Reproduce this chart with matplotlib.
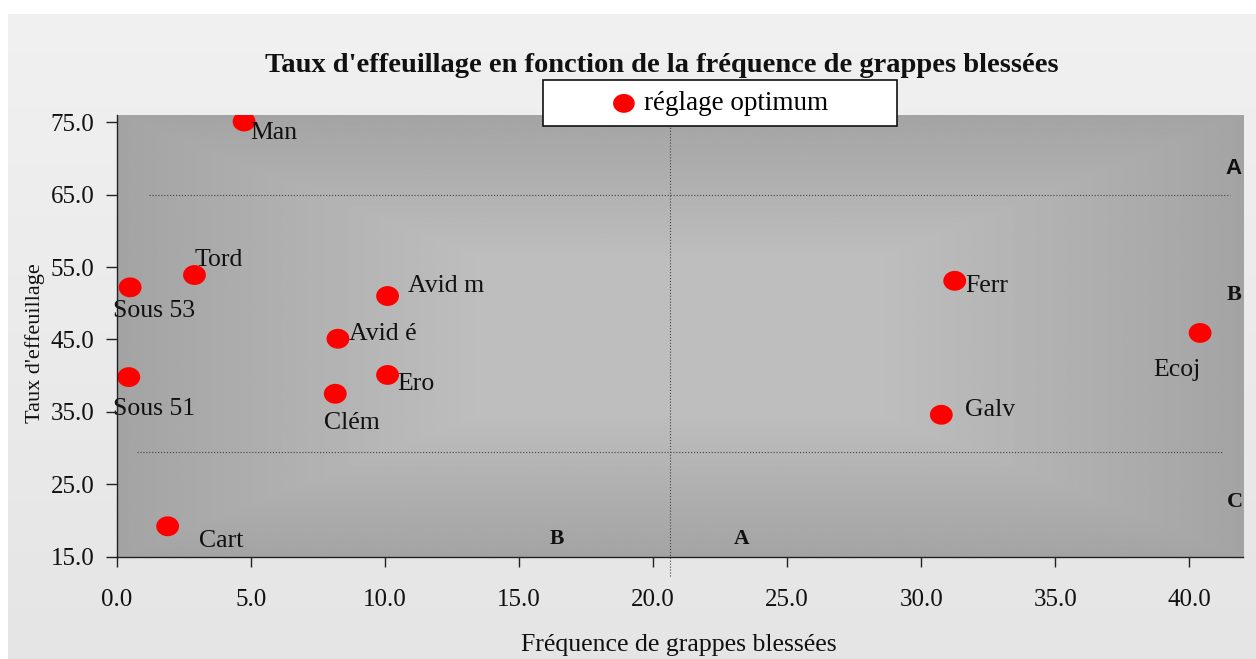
import matplotlib
matplotlib.use("Agg")
import matplotlib.pyplot as plt
import numpy as np
from matplotlib.path import Path
from matplotlib.transforms import Affine2D
from matplotlib.patches import Rectangle

# données
varietes = ["Man", "Tord", "Sous 53", "Avid m", "Avid é", "Sous 51",
            "Ero", "Clém", "Cart", "Ferr", "Ecoj", "Galv"]
freq_blessees = [4.75, 2.9, 0.5, 10.1, 8.25, 0.45, 10.1, 8.15, 1.9, 31.25, 40.4, 30.75]
taux_effeuillage = [75.1, 53.9, 52.2, 51.0, 45.1, 39.8, 40.1, 37.5, 19.2, 53.1, 45.9, 34.6]

seuil_haut = 65.0
seuil_bas = 29.4
seuil_freq = 20.65

# décalage des étiquettes (pixels)
offsets = [(6, -11), (0, 15), (-17, -24), (20, 10), (11, 5), (-16, -32),
           (10, -9), (-11, -29), (31, -15), (11, -5), (-47, -37), (24, 5)]

W, H = 1256, 659
fig = plt.figure(figsize=(W / 100, H / 100), dpi=100)
fig.patch.set_facecolor("white")

# fond de la zone graphique
bg = fig.add_axes([8 / W, 0, 1 - 8 / W, 1 - 14 / H], zorder=-10)
grad = np.linspace(0.94, 0.895, 200).reshape(-1, 1)
bg.imshow(grad, cmap="gray", vmin=0, vmax=1, aspect="auto", extent=(0, 1, 0, 1), origin="upper")
bg.set_axis_off()

ax = fig.add_axes([116.7 / W, 1 - 556.7 / H, (1243 - 116.7) / W, (556.7 - 115) / H])
ax.set_xlim(0, 42)
ax.set_ylim(15, 76)

# dégradé rectangulaire du fond
u = np.linspace(-1, 1, 400)
v = np.linspace(-1, 1, 300)
U, V = np.meshgrid(u, v)
d = np.maximum(np.abs(U), np.abs(V))
shade = 0.642 + (0.745 - 0.642) * np.clip((1 - d) / 0.65, 0, 1)
ax.imshow(shade, cmap="gray", vmin=0, vmax=1, aspect="auto",
          extent=(0, 42, 15, 76), zorder=0, interpolation="bilinear")

ax.plot([1.2, 41.5], [seuil_haut, seuil_haut], ls=":", color="#444444", lw=0.8, zorder=1)
ax.plot([0.75, 41.2], [seuil_bas, seuil_bas], ls=":", color="#444444", lw=0.8, zorder=1)
ax.plot([seuil_freq, seuil_freq], [12.4, 76], ls=":", color="#444444", lw=0.8,
        zorder=1, clip_on=False)

circ = Path.unit_circle()
ellipse = circ.transformed(Affine2D().scale(1.15, 1.0))
sc = ax.scatter(freq_blessees, taux_effeuillage, s=270, marker=ellipse,
                color="#ff0000", edgecolors="none", zorder=3)

serif = "Liberation Serif"
for name, x, y, (dx, dy) in zip(varietes, freq_blessees, taux_effeuillage, offsets):
    ax.annotate(name, (x, y), xytext=(dx, dy), textcoords="offset pixels",
                ha="left", va="center", fontsize=18.5, family=serif, color="#111111",
                zorder=4)

# lettres de zones
for txt, x, y, fam, fs in [("A", 41.35, 68.6, "Liberation Sans", 16), ("B", 41.4, 51.1, serif, 16),
                           ("C", 41.4, 22.5, serif, 16), ("B", 16.4, 17.4, serif, 15.5),
                           ("A", 23.3, 17.4, serif, 15.5)]:
    ax.text(x, y, txt, ha="left" if x > 40 else "center", va="center",
            fontsize=fs, fontweight="bold", family=fam, color="#111111",
            clip_on=False, zorder=4)

for s in ["top", "right"]:
    ax.spines[s].set_visible(False)
for s in ["left", "bottom"]:
    ax.spines[s].set_color("#222222")
    ax.spines[s].set_linewidth(1.0)
    ax.spines[s].set_zorder(5)

ax.set_xticks(np.arange(0, 41, 5))
ax.set_yticks(np.arange(15, 76, 10))
ax.xaxis.set_major_formatter(matplotlib.ticker.FormatStrFormatter("%.1f"))
ax.yaxis.set_major_formatter(matplotlib.ticker.FormatStrFormatter("%.1f"))
ax.tick_params(axis="x", direction="out", length=7, width=1, color="#222222", pad=16)
ax.tick_params(axis="y", direction="out", length=8, width=1, color="#222222", pad=8)
for lab in ax.get_xticklabels() + ax.get_yticklabels():
    lab.set_family(serif)
    lab.set_fontsize(18)
    lab.set_color("#111111")

fig.text(662 / W, 1 - 66 / H, "Taux d'effeuillage en fonction de la fréquence de grappes blessées",
         ha="center", va="center", fontsize=20.5, fontweight="bold", family=serif, color="#111111")
fig.text(679 / W, 1 - 645 / H, "Fréquence de grappes blessées", ha="center", va="center",
         fontsize=18.5, family=serif, color="#111111")
fig.text(35 / W, 1 - 343 / H, "Taux d'effeuillage", ha="center", va="center", rotation=90,
         fontsize=16, family=serif, color="#111111")

# légende
fig.add_artist(Rectangle((543 / W, 1 - 126 / H), 354 / W, 46 / H, transform=fig.transFigure,
                         facecolor="white", edgecolor="#111111", lw=1.2, zorder=8))
leg = fig.legend([sc], ["réglage optimum"], loc="center", bbox_to_anchor=(718 / W, 1 - 104 / H),
                 frameon=False, handlelength=1.2, handletextpad=0.15, markerscale=0.95,
                 prop={"family": serif, "size": 19.5})
leg.set_zorder(9)

fig.savefig("out.png", dpi=100)
